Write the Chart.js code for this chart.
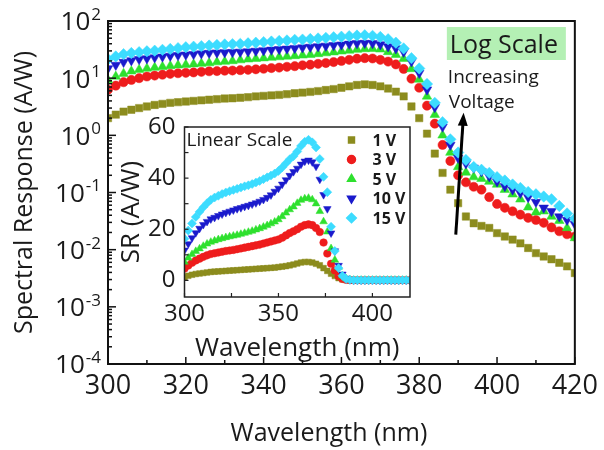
<!DOCTYPE html>
<html><head><meta charset="utf-8">
<script src="https://cdn.jsdelivr.net/npm/chart.js@4/dist/chart.umd.min.js"></script>
<style>
html,body{margin:0;padding:0;background:#fff;}
#wrap{position:relative;width:604px;height:450px;}
#wrap canvas{position:absolute;left:0;top:0;}
</style></head><body>
<div id="wrap"><canvas id="main" width="604" height="450"></canvas><canvas id="inset" width="604" height="450"></canvas></div>
<script>
// ---------- data ----------
const wavelengths = [300,302,304,306,308,310,312,314,316,318,320,322,324,326,328,330,332,334,336,338,340,342,344,346,348,350,352,354,356,358,360,362,364,366,368,370,372,374,376,378,380,382,384,386,388,390,392,394,396,398,400,402,404,406,408,410,412,414,416,418,420];
const seriesLabels = ['1 V','3 V','5 V','10 V','15 V'];
// main plot (log scale), A/W
const sr1V  = [2.0,2.3,2.6,2.8,3.0,3.2,3.4,3.55,3.7,3.8,3.9,4.0,4.1,4.2,4.3,4.4,4.45,4.55,4.65,4.8,4.9,5.0,5.1,5.25,5.45,5.6,5.75,5.95,6.2,6.45,6.8,7.2,7.6,7.8,7.6,7.2,6.6,5.8,4.8,3.2,2.0,1.07,0.48,0.22,0.112,0.065,0.038,0.029,0.026,0.024,0.0195,0.017,0.015,0.0129,0.0107,0.0087,0.0076,0.0068,0.0059,0.0051,0.0039];
const sr3V  = [6.3,7.4,8.5,9.3,10.0,10.7,11.1,11.5,11.9,12.2,12.4,12.6,12.9,13.2,13.3,13.5,13.6,13.8,14.0,14.3,14.6,15.0,15.3,15.8,16.2,16.8,17.2,17.8,18.4,19.1,20.0,20.9,21.9,22.4,22.1,20.9,19.5,17.4,14.5,9.8,6.8,3.3,1.6,0.68,0.355,0.20,0.151,0.126,0.112,0.083,0.063,0.054,0.047,0.041,0.036,0.033,0.0295,0.0245,0.021,0.0186,0.017];
const sr5V  = [9.3,10.7,12.0,13.2,14.1,14.8,15.3,15.8,16.4,16.8,17.2,17.6,18.0,18.4,19.1,19.5,20.0,20.7,21.4,21.9,22.4,22.9,23.4,24.0,24.5,25.1,25.7,26.6,27.5,28.5,29.5,30.5,31.6,32.4,32.7,32.0,28.8,25.7,21.9,14.5,9.5,4.8,2.3,1.0,0.50,0.28,0.224,0.186,0.174,0.155,0.138,0.112,0.093,0.076,0.055,0.045,0.047,0.038,0.032,0.024,0.016];
const sr10V = [14.8,17.0,19.1,20.4,21.4,22.1,22.9,23.7,24.5,25.1,25.7,26.3,26.9,27.5,27.9,28.2,28.5,28.8,29.2,29.9,30.5,31.3,32.0,32.7,33.5,34.3,35.1,35.9,36.7,37.6,38.5,39.8,40.7,41.2,40.7,38.9,35.9,33.1,28.8,19.5,12.3,6.3,3.1,1.41,0.68,0.40,0.32,0.27,0.234,0.19,0.155,0.129,0.112,0.098,0.083,0.068,0.054,0.047,0.038,0.033,0.028];
const sr15V = [21.4,24.0,26.3,27.5,28.5,29.5,30.2,31.3,32.4,33.5,34.7,35.5,36.3,37.2,38.0,38.9,39.4,39.8,40.7,41.7,42.7,43.7,44.7,45.7,46.8,47.3,48.4,49.5,50.7,51.9,53.1,54.3,55.6,56.2,55.0,52.5,47.9,41.7,33.1,22.4,14.8,7.9,3.7,1.7,0.85,0.50,0.37,0.28,0.25,0.22,0.186,0.162,0.138,0.12,0.102,0.093,0.085,0.076,0.058,0.043,0.035];
// inset (linear scale), A/W
const in1V  = [1.3,1.8,2.2,2.5,2.7,2.9,3.1,3.3,3.4,3.5,3.6,3.7,3.8,3.9,4.0,4.1,4.2,4.3,4.4,4.5,4.6,4.7,4.8,4.9,5.0,5.2,5.4,5.6,5.9,6.2,6.6,7.0,7.2,7.2,7.0,6.5,5.9,4.8,3.7,2.6,1.7,0.9,0.4,0.2,0.1,0.05,0.05,0.05,0.05,0.05,0.05,0.05,0.05,0.05,0.05,0.05,0.05,0.05,0.05,0.05,0.05];
const in3V  = [4.6,5.8,6.9,7.8,8.5,9.2,9.8,10.3,10.6,10.9,11.2,11.5,11.7,11.9,12.2,12.5,12.8,13.1,13.4,13.7,14.0,14.4,14.8,15.2,15.6,16.0,16.7,17.6,18.5,19.2,20.0,21.0,21.6,21.9,21.6,20.5,18.9,14.8,10.5,6.5,3.9,1.6,0.6,0.2,0.1,0.05,0.05,0.05,0.05,0.05,0.05,0.05,0.05,0.05,0.05,0.05,0.05,0.05,0.05,0.05,0.05];
const in5V  = [7.2,8.8,10.2,11.4,12.4,13.4,14.3,15.0,15.5,16.0,16.4,16.8,17.1,17.4,17.7,18.1,18.5,18.9,19.3,19.8,20.3,20.9,21.5,22.2,22.9,23.8,25.0,26.4,27.7,28.8,30.2,31.4,32.0,32.2,31.6,30.0,27.0,23.0,19.0,12.5,8.0,5.2,1.8,0.7,0.3,0.1,0.1,0.1,0.1,0.1,0.1,0.1,0.1,0.1,0.1,0.1,0.1,0.1,0.1,0.1,0.1];
const in10V = [11.8,14.3,16.6,18.6,20.3,21.8,23.0,24.0,24.6,25.3,25.9,26.5,27.0,27.5,28.0,28.4,28.9,29.3,29.8,30.3,30.9,31.6,32.4,33.4,34.8,36.0,37.6,39.3,41.0,42.5,43.8,45.4,46.6,47.0,46.3,44.6,39.5,33.5,28.0,18.5,11.5,5.8,2.4,0.8,0.3,0.1,0.1,0.1,0.1,0.1,0.1,0.1,0.1,0.1,0.1,0.1,0.1,0.1,0.1,0.1,0.1];
const in15V = [16.3,19.5,22.3,24.8,26.8,28.6,30.2,31.5,32.4,33.1,33.8,34.4,34.9,35.4,35.8,36.3,36.8,37.2,37.7,38.3,38.9,39.6,40.3,41.0,41.8,42.8,44.2,45.8,47.4,48.6,50.4,52.6,54.2,55.0,54.0,52.0,47.5,40.5,34.5,21.0,11.5,4.8,1.8,0.5,0.2,0.1,0.1,0.1,0.1,0.1,0.1,0.1,0.1,0.1,0.1,0.1,0.1,0.1,0.1,0.1,0.1];
// axis ticks
const xTickValues = [300,320,340,360,380,400,420];
const xMinorTicks = [310,330,350,370,390,410];
const yExponents = [-4,-3,-2,-1,0,1,2];
const yMinorMultipliers = [2,3,4,5,6,7,8,9];
const insetXTicks = [300,350,400];
const insetXMinor = [325,375];
const insetYTicks = [0,20,40,60];
const insetYMinor = [10,30,50];

// ---------- styles ----------
const colors = ['#8c8c1e','#ee1c1c','#2ee02e','#1a1acc','#3cdcff'];
const styles = ['rect','circle','triangle','triangle','rectRot'];
const rotations = [0,0,0,180,0];
const mainRadius = [5.2,4.6,5.5,5.5,5.7];
const insetRadius = [4.0,3.8,4.4,4.4,4.5];
const FONT = "'Open Sans', 'DejaVu Sans', sans-serif";
const TXT = '#1a1a1a';

function makeSets(arrays, radii){
  return arrays.map((arr,i)=>({
    label: seriesLabels[i],
    data: wavelengths.map((w,j)=>({x:w, y:arr[j]})),
    showLine:false,
    pointStyle: styles[i],
    rotation: rotations[i],
    pointRadius: radii[i],
    pointBackgroundColor: colors[i],
    pointBorderColor: colors[i],
    pointBorderWidth: 0.5,
    order: 4 - i
  }));
}
function seg(ctx,x1,y1,x2,y2){ctx.beginPath();ctx.moveTo(x1,y1);ctx.lineTo(x2,y2);ctx.stroke();}

// ---------- main chart ----------
const mainDecor = {
  id:'mainDecor',
  afterDraw(chart){
    const {ctx, chartArea:a, scales:{x,y}} = chart;
    ctx.save();
    ctx.strokeStyle = '#111';
    ctx.lineWidth = 1.5;
    xTickValues.forEach(v=>{const p=x.getPixelForValue(v); seg(ctx,p,a.bottom,p,a.bottom-7);});
    xMinorTicks.forEach(v=>{const p=x.getPixelForValue(v); seg(ctx,p,a.bottom,p,a.bottom-4);});
    yExponents.forEach(e=>{const p=y.getPixelForValue(Math.pow(10,e)); seg(ctx,a.left,p,a.left+8,p);});
    yExponents.slice(0,-1).forEach(e=>{
      yMinorMultipliers.forEach(m=>{const p=y.getPixelForValue(m*Math.pow(10,e)); seg(ctx,a.left,p,a.left+4,p);});
    });
    ctx.lineWidth = 2;
    ctx.strokeRect(a.left,a.top,a.width,a.height);
    // y tick labels 10^n
    ctx.fillStyle = TXT;
    ctx.textBaseline = 'middle';
    yExponents.forEach(e=>{
      const p = y.getPixelForValue(Math.pow(10,e));
      const sup = String(e);
      ctx.font = '17px ' + FONT;
      const sw = ctx.measureText(sup).width;
      const right = a.left - 7;
      ctx.textAlign = 'left';
      ctx.fillText(sup, right - sw, p - 6);
      ctx.font = '26px ' + FONT;
      ctx.textAlign = 'right';
      ctx.fillText('10', right - sw - 1, p + 2);
    });
    // annotations
    const bx = x.getPixelForValue(387.1), by = a.top + 6;
    ctx.fillStyle = '#b4f0b4';
    ctx.fillRect(bx, by, 119, 33);
    ctx.fillStyle = TXT;
    ctx.textAlign = 'left';
    ctx.textBaseline = 'alphabetic';
    ctx.font = '25px ' + FONT;
    ctx.fillText('Log Scale', bx + 3, by + 26);
    ctx.font = '19px ' + FONT;
    ctx.fillText('Increasing', bx + 1, by + 56);
    ctx.fillText('Voltage', bx + 2, by + 81);
    // arrow
    const x0 = x.getPixelForValue(389.4), y0 = y.getPixelForValue(0.0183);
    const x1 = x.getPixelForValue(391.4), y1 = y.getPixelForValue(2.48);
    const ang = Math.atan2(y1-y0, x1-x0);
    ctx.strokeStyle = '#000'; ctx.fillStyle = '#000'; ctx.lineWidth = 3;
    seg(ctx, x0, y0, x1 - 10*Math.cos(ang), y1 - 10*Math.sin(ang));
    ctx.beginPath();
    ctx.moveTo(x1, y1);
    ctx.lineTo(x1 - 13*Math.cos(ang) + 5*Math.sin(ang), y1 - 13*Math.sin(ang) - 5*Math.cos(ang));
    ctx.lineTo(x1 - 13*Math.cos(ang) - 5*Math.sin(ang), y1 - 13*Math.sin(ang) + 5*Math.cos(ang));
    ctx.closePath(); ctx.fill();
    ctx.restore();
  }
};

new Chart(document.getElementById('main'), {
  type:'scatter',
  data:{datasets: makeSets([sr1V,sr3V,sr5V,sr10V,sr15V], mainRadius)},
  options:{
    responsive:false, animation:false, devicePixelRatio:1,
    layout:{padding:{left:0,right:26,top:21,bottom:0}},
    plugins:{legend:{display:false}, tooltip:{enabled:false}},
    scales:{
      x:{type:'linear', min:300, max:420,
        afterBuildTicks:s=>{s.ticks = xTickValues.map(v=>({value:v}));},
        grid:{display:false, drawTicks:false}, border:{display:false},
        ticks:{font:{family:FONT,size:27}, color:TXT, padding:6, autoSkip:false, maxRotation:0},
        title:{display:true, text:'Wavelength (nm)\u2003', font:{family:FONT,size:25}, color:TXT, padding:{top:0,bottom:1}},
        afterFit:s=>{s.height = 86;}
      },
      y:{type:'logarithmic', min:1e-4, max:100,
        grid:{display:false, drawTicks:false}, border:{display:false},
        ticks:{display:false},
        title:{display:true, text:'Spectral Response (A/W)', font:{family:FONT,size:25}, color:TXT, padding:{top:10,bottom:0}},
        afterFit:s=>{s.width = 108;}
      }
    }
  },
  plugins:[mainDecor]
});

// ---------- inset chart ----------
const insetDecor = {
  id:'insetDecor',
  beforeDatasetsDraw(chart){
    const {ctx, chartArea:a} = chart;
    ctx.save(); ctx.fillStyle = '#fff'; ctx.fillRect(a.left,a.top,a.width,a.height); ctx.restore();
  },
  afterDraw(chart){
    const {ctx, chartArea:a, scales:{x,y}} = chart;
    ctx.save();
    ctx.strokeStyle = '#222'; ctx.lineWidth = 1.2;
    insetXTicks.concat(insetXMinor).forEach(v=>{const p=x.getPixelForValue(v); seg(ctx,p,a.bottom,p,a.bottom-4);});
    insetYTicks.concat(insetYMinor).forEach(v=>{const p=y.getPixelForValue(v); seg(ctx,a.left,p,a.left+4,p);});
    ctx.lineWidth = 1.5;
    ctx.strokeRect(a.left,a.top,a.width,a.height);
    ctx.fillStyle = TXT;
    ctx.font = '19px ' + FONT;
    ctx.textAlign = 'left'; ctx.textBaseline = 'alphabetic';
    ctx.fillText('Linear Scale', a.left + 2, a.top + 19);
    // legend
    const lx = a.left + 167, ly = a.top + 13;
    chart.data.datasets.forEach((ds,i)=>{
      const yy = ly + i*19.5;
      ctx.fillStyle = colors[i]; ctx.strokeStyle = colors[i];
      Chart.helpers.drawPoint(ctx, {pointStyle:styles[i], rotation:rotations[i], radius:[4.2,4,4.6,4.6,4.8][i], borderWidth:0.5}, lx, yy);
      ctx.fillStyle = TXT;
      ctx.font = 'bold 16px ' + FONT;
      ctx.textBaseline = 'middle';
      ctx.fillText(ds.label, lx + 21, yy + 1);
    });
    ctx.restore();
  }
};

new Chart(document.getElementById('inset'), {
  type:'scatter',
  data:{datasets: makeSets([in1V,in3V,in5V,in10V,in15V], insetRadius)},
  options:{
    responsive:false, animation:false, devicePixelRatio:1,
    layout:{padding:{left:0,right:194,top:127,bottom:0}},
    plugins:{legend:{display:false}, tooltip:{enabled:false}},
    scales:{
      x:{type:'linear', min:300, max:420,
        afterBuildTicks:s=>{s.ticks = insetXTicks.map(v=>({value:v}));},
        grid:{display:false, drawTicks:false}, border:{display:false},
        ticks:{font:{family:FONT,size:24}, color:TXT, padding:3, autoSkip:false, maxRotation:0},
        title:{display:true, text:'Wavelength (nm)', font:{family:FONT,size:26}, color:TXT, padding:{top:0,bottom:86}},
        afterFit:s=>{s.height = 153;}
      },
      y:{type:'linear', min:-6.5, max:60,
        afterBuildTicks:s=>{s.ticks = insetYTicks.map(v=>({value:v}));},
        grid:{display:false, drawTicks:false}, border:{display:false},
        ticks:{font:{family:FONT,size:24}, color:TXT, padding:9},
        title:{display:true, text:'SR (A/W)', font:{family:FONT,size:26}, color:TXT, padding:{top:116,bottom:0}},
        afterFit:s=>{s.width = 184.5;}
      }
    }
  },
  plugins:[insetDecor]
});
</script>
</body></html>
